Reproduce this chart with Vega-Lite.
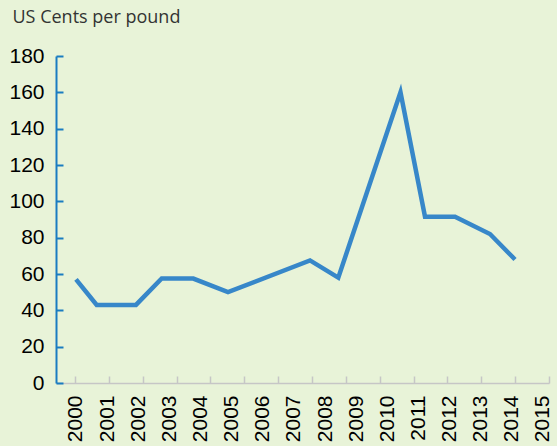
{
  "$schema": "https://vega.github.io/schema/vega-lite/v6.json",
  "width": 493,
  "height": 327,
  "autosize": {"type": "none"},
  "padding": {"left": 56, "top": 56, "right": 8, "bottom": 63},
  "background": "#e8f3d8",
  "config": {"view": {"stroke": null}},
  "data": {
    "values": [
      {"year": 2000.0, "cents": 57},
      {"year": 2000.665, "cents": 43},
      {"year": 2001.927, "cents": 43},
      {"year": 2002.753, "cents": 57.5},
      {"year": 2003.768, "cents": 57.5},
      {"year": 2004.883, "cents": 50},
      {"year": 2007.517, "cents": 67.5},
      {"year": 2008.426, "cents": 58},
      {"year": 2010.424, "cents": 160},
      {"year": 2011.211, "cents": 91.5},
      {"year": 2012.175, "cents": 91.5},
      {"year": 2013.299, "cents": 82},
      {"year": 2014.102, "cents": 68}
    ]
  },
  "layer": [
    {
      "mark": {"type": "point", "opacity": 0},
      "encoding": {
        "x": {
          "field": "year",
          "type": "quantitative",
          "scale": {"domain": [-0.561, 14], "nice": false, "zero": false},
          "axis": {
            "orient": "bottom",
            "values": [0, 1, 2, 3, 4, 5, 6, 7, 8, 9, 10, 11, 12, 13, 14],
            "labels": false,
            "grid": false,
            "title": null,
            "domainColor": "#c6c6c6",
            "domainWidth": 1.5,
            "tickColor": "#c6c6c6",
            "tickWidth": 1.5,
            "tickSize": -7
          }
        },
        "y": {
          "field": "cents",
          "type": "quantitative",
          "scale": {"domain": [0, 180], "nice": false, "zero": true},
          "axis": {
            "values": [0, 20, 40, 60, 80, 100, 120, 140, 160, 180],
            "grid": false,
            "domainColor": "#1a7cc1",
            "domainWidth": 2,
            "tickColor": "#1a7cc1",
            "tickWidth": 2,
            "tickSize": -7,
            "labelPadding": 19,
            "labelFlush": false,
            "labelOverlap": false,
            "labelFont": "Liberation Sans",
            "labelFontSize": 21,
            "labelColor": "#000000",
            "title": "US Cents per pound",
            "titleAngle": 0,
            "titleAlign": "left",
            "titleBaseline": "alphabetic",
            "titleX": -44,
            "titleY": -34,
            "titleFont": "Open Sans",
            "titleFontSize": 18,
            "titleFontWeight": "normal",
            "titleColor": "#333333"
          }
        }
      }
    },
    {
      "mark": {"type": "line", "color": "#3787c9", "strokeWidth": 4.5, "strokeJoin": "miter", "clip": false},
      "encoding": {
        "x": {
          "field": "year",
          "type": "quantitative",
          "scale": {"domain": [1999.358, 2015.194], "nice": false, "zero": false},
          "axis": {
            "orient": "bottom",
            "values": [2000, 2001, 2002, 2003, 2004, 2005, 2006, 2007, 2008, 2009, 2010, 2011, 2012, 2013, 2014, 2015],
            "format": "d",
            "ticks": false,
            "domain": false,
            "grid": false,
            "title": null,
            "labelAngle": -90,
            "labelAlign": "right",
            "labelBaseline": "middle",
            "labelPadding": 12,
            "labelFlush": false,
            "labelOverlap": false,
            "labelBound": false,
            "labelFont": "Liberation Sans",
            "labelFontSize": 21,
            "labelColor": "#000000"
          }
        },
        "y": {
          "field": "cents",
          "type": "quantitative",
          "scale": {"domain": [0, 180], "nice": false, "zero": true},
          "axis": {
            "values": [0, 20, 40, 60, 80, 100, 120, 140, 160, 180],
            "grid": false,
            "domainColor": "#1a7cc1",
            "domainWidth": 2,
            "tickColor": "#1a7cc1",
            "tickWidth": 2,
            "tickSize": -7,
            "labelPadding": 19,
            "labelFlush": false,
            "labelOverlap": false,
            "labelFont": "Liberation Sans",
            "labelFontSize": 21,
            "labelColor": "#000000",
            "title": "US Cents per pound",
            "titleAngle": 0,
            "titleAlign": "left",
            "titleBaseline": "alphabetic",
            "titleX": -44,
            "titleY": -34,
            "titleFont": "Open Sans",
            "titleFontSize": 18,
            "titleFontWeight": "normal",
            "titleColor": "#333333"
          }
        }
      }
    }
  ],
  "resolve": {"scale": {"x": "independent"}, "axis": {"x": "independent"}}
}
